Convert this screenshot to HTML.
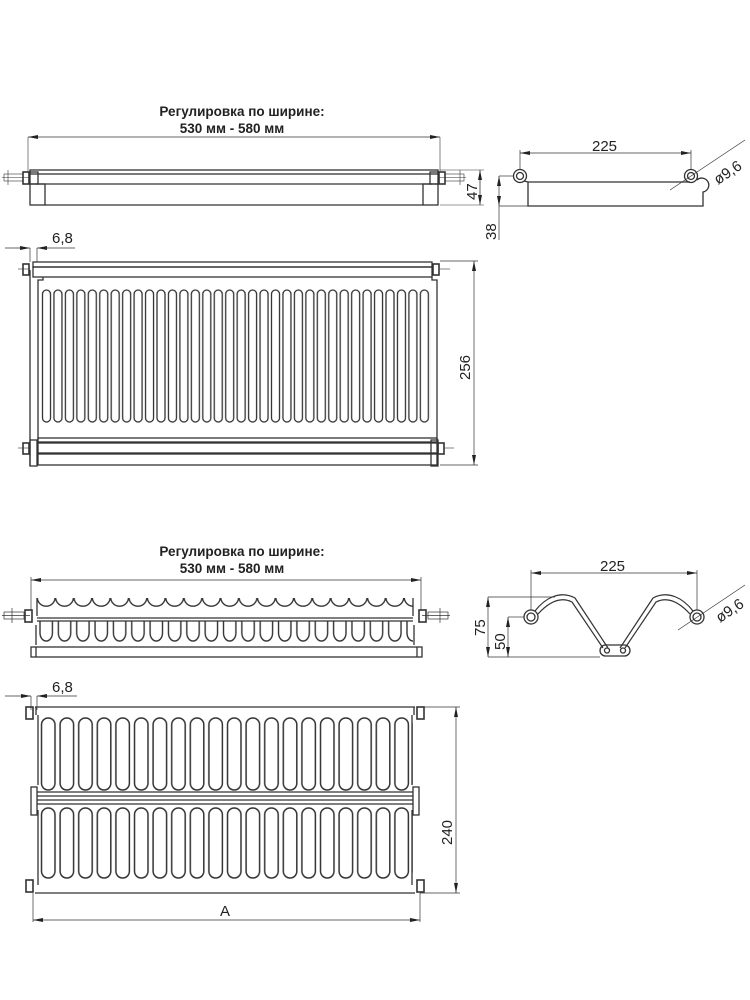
<!DOCTYPE html>
<html><head><meta charset="utf-8"><style>
html,body{margin:0;padding:0;background:#fff}
svg{display:block}
text{font-family:"Liberation Sans",sans-serif;fill:#222}
</style></head><body>
<svg width="750" height="1000" viewBox="0 0 750 1000" xmlns="http://www.w3.org/2000/svg">
<defs>
<marker id="ar" viewBox="0 0 10 4" refX="10" refY="2" markerWidth="12" markerHeight="4" orient="auto-start-reverse" markerUnits="userSpaceOnUse"><path d="M0,0L10,2L0,4z" fill="#222"/></marker>
<pattern id="s1" patternUnits="userSpaceOnUse" x="41" y="0" width="11.45" height="1000">
<rect x="1.5" y="290" width="8" height="132" rx="4" fill="none" stroke="#333" stroke-width="1.3"/></pattern>
<pattern id="s2" patternUnits="userSpaceOnUse" x="39.5" y="0" width="18.6" height="1000">
<rect x="2" y="718" width="13.5" height="72" rx="6.7" fill="none" stroke="#333" stroke-width="1.5"/>
<rect x="2" y="808" width="13.5" height="70" rx="6.7" fill="none" stroke="#333" stroke-width="1.5"/></pattern>
<pattern id="sc" patternUnits="userSpaceOnUse" x="37" y="0" width="18.35" height="1000">
<path d="M0.3,598 A8.9,8.9 0 0 0 18.05,598" fill="none" stroke="#333" stroke-width="1.4"/>
<path d="M3,621 V633 A6.2,8 0 0 0 15.4,633 V621" fill="none" stroke="#333" stroke-width="1.4"/></pattern>
</defs>
<g stroke="#333" fill="none" stroke-width="1.3">
<!-- ===== Drawing 1 side view ===== -->
<line x1="28" y1="137" x2="440" y2="137" stroke-width="0.8" marker-start="url(#ar)" marker-end="url(#ar)"/>
<line x1="28" y1="137" x2="28" y2="172" stroke-width="0.6"/>
<line x1="440" y1="137" x2="440" y2="172" stroke-width="0.6"/>
<rect x="30" y="170" width="408" height="4"/>
<line x1="36" y1="184" x2="432" y2="184"/>
<line x1="45" y1="205" x2="423" y2="205"/>
<rect x="30" y="172" width="8" height="12"/>
<rect x="30" y="184" width="15" height="21"/>
<rect x="430" y="172" width="8" height="12"/>
<rect x="423" y="184" width="15" height="21"/>
<rect x="23" y="172" width="6" height="12" stroke-width="1.6"/>
<rect x="439" y="172" width="6" height="12" stroke-width="1.6"/>
<g stroke-width="0.6"><rect x="4" y="174" width="19" height="7"/><line x1="2" y1="177.5" x2="30" y2="177.5"/><line x1="8" y1="170" x2="8" y2="185"/>
<rect x="445" y="174" width="19" height="7"/><line x1="438" y1="177.5" x2="466" y2="177.5"/><line x1="460" y1="170" x2="460" y2="185"/>
<line x1="440" y1="170" x2="484" y2="170"/><line x1="440" y1="205" x2="484" y2="205"/></g>
<line x1="480" y1="170" x2="480" y2="205" stroke-width="0.8" marker-start="url(#ar)" marker-end="url(#ar)"/>
<!-- profile -->
<circle cx="520" cy="176" r="6.5"/><circle cx="520" cy="176" r="3.5"/>
<circle cx="691" cy="176" r="6.5"/><circle cx="691" cy="176" r="3.5"/>
<path d="M524,181 L528,182 V206 H703 V192 A7,7 0 1 0 697,180 M528,182 H690"/>
<g stroke-width="0.7">
<line x1="520" y1="153" x2="691" y2="153" marker-start="url(#ar)" marker-end="url(#ar)"/>
<line x1="520" y1="150" x2="520" y2="170"/><line x1="691" y1="150" x2="691" y2="170"/>
<line x1="499" y1="176" x2="514" y2="176"/><line x1="499" y1="206" x2="528" y2="206"/>
<line x1="499" y1="176" x2="499" y2="206" marker-start="url(#ar)" marker-end="url(#ar)"/>
<line x1="499" y1="206" x2="499" y2="240"/>
<line x1="670" y1="190" x2="745" y2="140"/>
</g>
<!-- ===== Drawing 1 top view ===== -->
<g stroke-width="0.7">
<line x1="30" y1="248" x2="30" y2="262"/><line x1="37" y1="248" x2="37" y2="262"/>
<line x1="5" y1="248" x2="30" y2="248" marker-end="url(#ar)"/><line x1="37" y1="248" x2="75" y2="248" marker-start="url(#ar)"/>
<line x1="440" y1="261" x2="478" y2="261"/><line x1="440" y1="465" x2="478" y2="465"/>
<line x1="474" y1="261" x2="474" y2="465" marker-start="url(#ar)" marker-end="url(#ar)"/>
</g>
<rect x="33" y="262" width="399" height="5"/>
<rect x="33" y="267" width="399" height="10"/>
<path d="M38,440 V280 H43 V277 M437,440 V280 H432 V277"/>
<line x1="30" y1="270" x2="30" y2="466"/>
<rect x="41" y="285" width="390" height="150" fill="url(#s1)" stroke="none"/>
<rect x="38" y="438" width="399" height="4"/>
<rect x="38" y="443" width="399" height="10"/>
<rect x="38" y="454" width="399" height="11"/>
<rect x="30" y="440" width="7" height="26"/>
<rect x="431" y="440" width="7" height="26"/>
<g stroke-width="1.6"><rect x="23" y="264" width="6" height="11"/><rect x="433" y="264" width="6" height="11"/>
<rect x="23" y="443" width="6" height="11"/><rect x="438" y="443" width="6" height="11"/></g>
<g stroke-width="0.6"><line x1="18" y1="269" x2="30" y2="269"/><line x1="440" y1="269" x2="450" y2="269"/>
<line x1="18" y1="448" x2="30" y2="448"/><line x1="444" y1="448" x2="454" y2="448"/></g>

<!-- ===== Drawing 2 side view ===== -->
<g stroke-width="0.7">
<line x1="31" y1="580" x2="421" y2="580" marker-start="url(#ar)" marker-end="url(#ar)"/>
<line x1="31" y1="577" x2="31" y2="610"/><line x1="421" y1="577" x2="421" y2="610"/>
<rect x="4" y="612" width="20" height="7"/><line x1="2" y1="615.5" x2="30" y2="615.5"/><line x1="12" y1="608" x2="12" y2="623"/>
<rect x="428" y="612" width="20" height="7"/><line x1="422" y1="615.5" x2="450" y2="615.5"/><line x1="440" y1="608" x2="440" y2="623"/>
</g>
<rect x="37" y="585" width="376" height="62" fill="url(#sc)" stroke="none"/>
<path d="M37,598 V616 M413,598 V616 M36,625 V645 M414,625 V645"/>
<line x1="37" y1="618" x2="413" y2="618"/><line x1="37" y1="621" x2="413" y2="621"/>
<rect x="31" y="647" width="391" height="10"/>
<line x1="36" y1="647" x2="36" y2="657"/><line x1="417" y1="647" x2="417" y2="657"/>
<g stroke-width="1.6"><rect x="25" y="610" width="7" height="12"/><rect x="419" y="610" width="7" height="12"/></g>
<!-- V wire -->
<circle cx="531" cy="617" r="7"/><circle cx="531" cy="617" r="4"/>
<circle cx="697" cy="617" r="7"/><circle cx="697" cy="617" r="4"/>
<path d="M535,611 C545,598 560,590 575,598 L608,648 M538,614 C548,603 560,596 572,602 L603,648" stroke-width="1.2"/>
<path d="M693,611 C683,598 668,590 653,598 L620,648 M690,614 C680,603 668,596 656,602 L625,648" stroke-width="1.2"/>
<rect x="600" y="645" width="30" height="11" rx="5.5"/>
<circle cx="607" cy="650.5" r="2.5"/><circle cx="623" cy="650.5" r="2.5"/>
<g stroke-width="0.7">
<line x1="531" y1="573" x2="697" y2="573" marker-start="url(#ar)" marker-end="url(#ar)"/>
<line x1="531" y1="570" x2="531" y2="610"/><line x1="697" y1="570" x2="697" y2="610"/>
<line x1="488" y1="597" x2="555" y2="597"/><line x1="488" y1="657" x2="600" y2="657"/>
<line x1="488" y1="597" x2="488" y2="657" marker-start="url(#ar)" marker-end="url(#ar)"/>
<line x1="508" y1="617" x2="524" y2="617"/>
<line x1="508" y1="617" x2="508" y2="657" marker-start="url(#ar)" marker-end="url(#ar)"/>
<line x1="678" y1="630" x2="745" y2="585"/>
</g>
<!-- ===== Drawing 2 top view ===== -->
<g stroke-width="0.7">
<line x1="31" y1="696" x2="31" y2="710"/><line x1="37" y1="696" x2="37" y2="710"/>
<line x1="5" y1="696" x2="31" y2="696" marker-end="url(#ar)"/><line x1="37" y1="696" x2="77" y2="696" marker-start="url(#ar)"/>
<line x1="420" y1="707" x2="460" y2="707"/><line x1="420" y1="893" x2="460" y2="893"/>
<line x1="456" y1="707" x2="456" y2="893" marker-start="url(#ar)" marker-end="url(#ar)"/>
<line x1="33" y1="893" x2="33" y2="922"/><line x1="420" y1="893" x2="420" y2="922"/>
<line x1="33" y1="920" x2="420" y2="920" marker-start="url(#ar)" marker-end="url(#ar)"/>
</g>
<line x1="35" y1="707" x2="415" y2="707"/>
<line x1="35" y1="893" x2="415" y2="893"/>
<path d="M36,707 V715 M414,707 V715 M38,715 V785 M412,715 V785 M38,810 V885 M412,810 V885"/>
<rect x="38" y="712" width="375" height="170" fill="url(#s2)" stroke="none"/>
<line x1="37" y1="792" x2="413" y2="792"/><line x1="37" y1="796" x2="413" y2="796"/>
<line x1="37" y1="800" x2="413" y2="800"/><line x1="37" y1="804" x2="413" y2="804"/>
<rect x="31" y="787" width="6" height="28"/><rect x="413" y="787" width="6" height="28"/>
<g stroke-width="1.6"><rect x="26" y="707" width="7" height="12"/><rect x="417" y="707" width="7" height="12"/>
<rect x="26" y="880" width="7" height="12"/><rect x="417" y="880" width="7" height="12"/></g>
</g>
<!-- text -->
<g font-weight="bold" font-size="13.5" text-anchor="middle">
<text x="242" y="116">Регулировка по ширине:</text>
<text x="232" y="133">530 мм - 580 мм</text>
<text x="242" y="556">Регулировка по ширине:</text>
<text x="232" y="573">530 мм - 580 мм</text>
</g>
<g font-size="15">
<text x="592" y="151">225</text>
<text x="600" y="571">225</text>
<text x="52" y="243">6,8</text>
<text x="52" y="692">6,8</text>
<text x="220" y="916">A</text>
<text transform="translate(477,200) rotate(-90)">47</text>
<text transform="translate(496,240) rotate(-90)">38</text>
<text transform="translate(470,380) rotate(-90)">256</text>
<text transform="translate(452,845) rotate(-90)">240</text>
<text transform="translate(485,636) rotate(-90)">75</text>
<text transform="translate(505,650) rotate(-90)">50</text>
<text transform="translate(718,185) rotate(-34)">ø9,6</text>
<text transform="translate(720,623) rotate(-34)">ø9,6</text>
</g>
</svg>
</body></html>
